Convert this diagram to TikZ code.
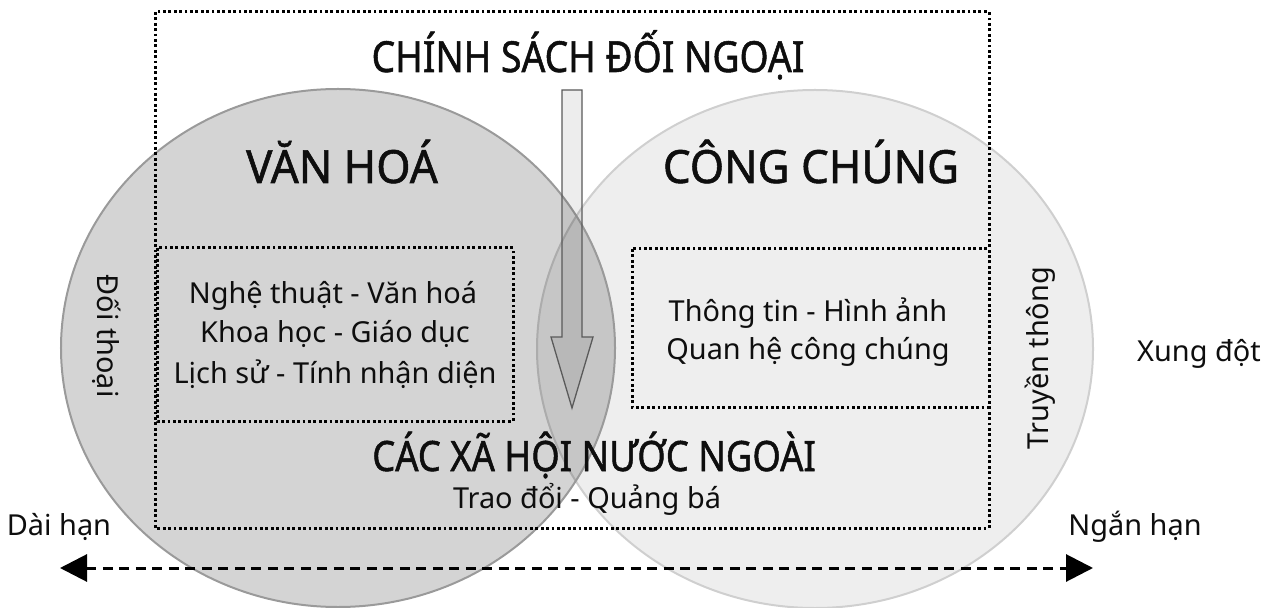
\documentclass[tikz,border=0pt]{standalone}
\usepackage{fontspec}
\setmainfont{Noto Sans}
\newfontfamily\titlefont{Noto Sans}[FakeStretch=0.87,FakeBold=1.2]
\newfontfamily\headfont{Noto Sans}[FakeStretch=0.96,FakeBold=1.2]
\usetikzlibrary{arrows.meta,shapes.geometric}
\definecolor{txt}{HTML}{0E0E0E}
\definecolor{leftedge}{HTML}{9A9A9A}
\definecolor{rightedge}{HTML}{CFCFCF}
\definecolor{arrowedge}{HTML}{5A5A5A}
\tikzset{
  dotbox/.style={draw=black, line width=3bp, dash pattern=on 2.8bp off 2.6bp},
  bigtitle/.style={font=\titlefont\fontsize{43}{46}\selectfont, text=txt, inner sep=0, anchor=base},
  headtitle/.style={font=\headfont\fontsize{46}{48}\selectfont, text=txt, inner sep=0, anchor=base},
  body/.style={font=\fontsize{29}{36}\selectfont, text=txt, inner sep=0, anchor=base},
  oval/.style={ellipse, inner sep=0, line width=2bp},
}
\begin{document}
\begin{tikzpicture}[x=1bp,y=-1bp]
\useasboundingbox (0,0) rectangle (1271,608);
% circles
\node[oval, draw=rightedge, fill=black, fill opacity=0.067, draw opacity=1,
      minimum width=556bp, minimum height=518bp] (pub) at (815,349) {};
\node[oval, draw=leftedge, fill=black, fill opacity=0.17, draw opacity=1,
      minimum width=554bp, minimum height=518bp] (cul) at (338,348) {};
% dotted boxes
\draw[dotbox] (155,12) rectangle (989,528);
\draw[dotbox] (157,248) rectangle (513,421);
\draw[dotbox] (632,249) rectangle (989,407);
% central block arrow
\draw[draw=arrowedge, line width=1.3bp, fill=black, fill opacity=0.07, line join=miter]
  (562,90) -- (582,90) -- (582,337) -- (593,337) -- (572,408) -- (551,337) -- (562,337) -- cycle;
% titles
\node[bigtitle] (pol) at (588,72) {CHÍNH SÁCH ĐỐI NGOẠI};
\node[headtitle] (vh) at (342,183) {VĂN HOÁ};
\node[headtitle] (cc) at (811,183) {CÔNG CHÚNG};
\node[bigtitle, font=\titlefont\fontsize{42}{46}\selectfont] (xh) at (594,471) {CÁC XÃ HỘI NƯỚC NGOÀI};
% box texts
\node[body] (l1) at (333,304) {Nghệ thuật - Văn hoá};
\node[body] (l2) at (335,343) {Khoa học - Giáo dục};
\node[body] (l3) at (335,383) {Lịch sử - Tính nhận diện};
\node[body] (r1) at (808,322) {Thông tin - Hình ảnh};
\node[body] (r2) at (808,360) {Quan hệ công chúng};
\node[body] (tq) at (587,508) {Trao đổi - Quảng bá};
% side labels
\node[body, anchor=center, rotate=-90] (dt) at (107,336) {Đối thoại};
\node[body, anchor=center, rotate=90] (tt) at (1040,358) {Truyền thông};
\node[body] (xd) at (1199,362) {Xung đột};
\node[body] (dh) at (59,535) {Dài hạn};
\node[body] (nh) at (1135,535) {Ngắn hạn};
% time axis
\coordinate (axL) at (60,568);
\coordinate (axR) at (1093,568);
\draw[line width=3bp, dash pattern=on 10bp off 6.5bp, {Triangle[length=27bp,width=27bp]}-{Triangle[length=27bp,width=27bp]}] (axL) -- (axR);
\end{tikzpicture}
\end{document}
